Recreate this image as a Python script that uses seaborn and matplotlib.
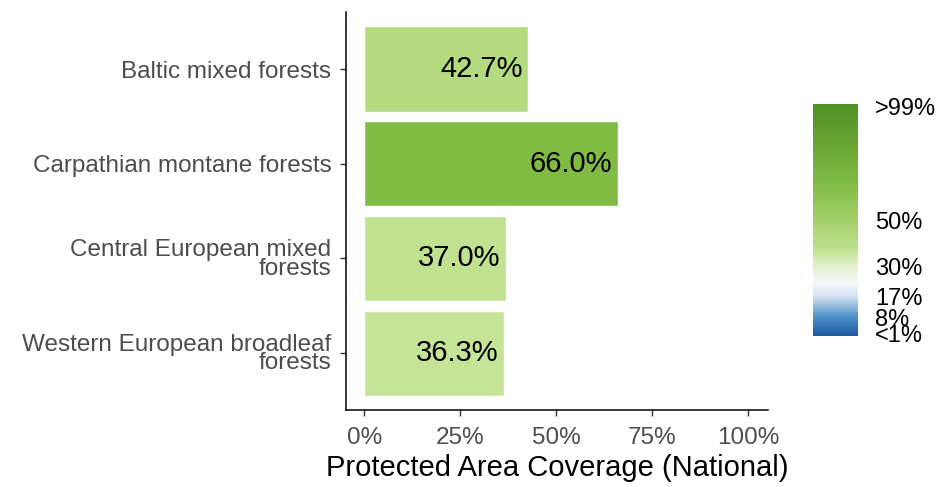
import numpy as np
import pandas as pd
import seaborn as sns
import matplotlib
matplotlib.use("Agg")
import matplotlib.pyplot as plt
from matplotlib.colors import LinearSegmentedColormap, Normalize
from matplotlib.cm import ScalarMappable

# data
ecoregions = [
    "Baltic mixed forests",
    "Carpathian montane forests",
    "Central European mixed\nforests",
    "Western European broadleaf\nforests",
]
coverage = [42.7, 66.0, 37.0, 36.3]

# colour scale (blue -> white -> green)
cbar_ticks = [1, 8, 17, 30, 50, 99]
cbar_labels = ["<1%", "8%", "17%", "30%", "50%", ">99%"]
scale_stops = [0, 8, 17, 23, 30, 37, 43, 50, 66, 100]
scale_colors = ["#1c5aa3", "#4a8fc7", "#d3e2f1", "#f7f7f7", "#e2f1cd",
                "#c0e28f", "#b3db7f", "#a3d06a", "#80bb44", "#4e9124"]

cmap = LinearSegmentedColormap.from_list(
    "pa", list(zip(np.array(scale_stops) / 100, scale_colors)))
norm = Normalize(0, 100)

df = pd.DataFrame({"ecoregion": ecoregions, "coverage": coverage})
bar_colors = [cmap(norm(v)) for v in df["coverage"]]

sns.set_theme(style="white")
plt.rcParams["font.family"] = ["Liberation Sans", "DejaVu Sans"]

fig = plt.figure(figsize=(9.4, 4.87), dpi=100)
ax = fig.add_axes([0.368, 0.158, 0.449, 0.817])

sns.barplot(data=df, x="coverage", y="ecoregion", hue="ecoregion",
            palette=bar_colors, width=0.9, legend=False, saturation=1,
            ax=ax)

for i, v in enumerate(df["coverage"]):
    ax.annotate(f"{v:.1f}%", xy=(v, i), xytext=(-4, 0),
                textcoords="offset points", ha="right", va="center",
                fontsize=21, color="black")

ax.set_xlim(-4.8, 105.2)
ax.set_ylim(3.6, -0.6)
ax.set_xticks([0, 25, 50, 75, 100])
ax.set_xticklabels(["0%", "25%", "50%", "75%", "100%"])
ax.set_xlabel("Protected Area Coverage (National)", fontsize=21,
              color="black", labelpad=3)
ax.set_ylabel("")

for lbl in ax.get_yticklabels():
    lbl.set_linespacing(0.8)

ax.tick_params(axis="both", direction="out", length=4.5, width=1,
               color="#333333", labelcolor="#4d4d4d", labelsize=17.5,
               bottom=True, left=True)
ax.tick_params(axis="x", pad=8)
ax.tick_params(axis="y", pad=6)
sns.despine(ax=ax)
for side in ["left", "bottom"]:
    ax.spines[side].set_color("black")
    ax.spines[side].set_linewidth(1.1)

# colour bar legend
cax = fig.add_axes([0.865, 0.31, 0.048, 0.476])
cb = fig.colorbar(ScalarMappable(norm=norm, cmap=cmap), cax=cax,
                  ticks=cbar_ticks)
cb.set_ticklabels(cbar_labels)
cb.outline.set_visible(False)
cax.tick_params(direction="in", length=7, width=1, color="white",
                left=True, right=True, labelsize=17, labelcolor="black",
                pad=12)

fig.savefig("out.png", dpi=100)
